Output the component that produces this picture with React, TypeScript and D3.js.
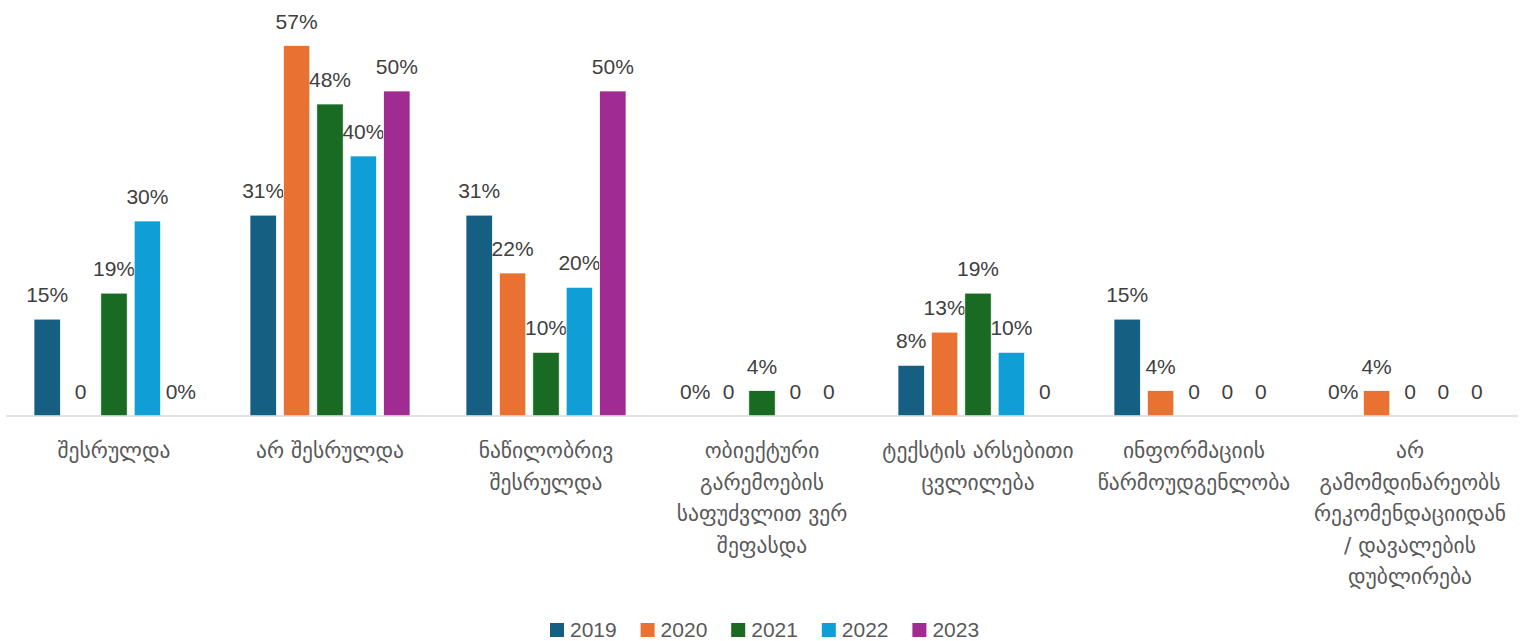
import { useEffect } from "react";
import * as d3 from "d3";

const categories = [
  ["შესრულდა"],
  ["არ შესრულდა"],
  ["ნაწილობრივ", "შესრულდა"],
  ["ობიექტური", "გარემოების", "საფუძვლით ვერ", "შეფასდა"],
  ["ტექსტის არსებითი", "ცვლილება"],
  ["ინფორმაციის", "წარმოუდგენლობა"],
  ["არ", "გამომდინარეობს", "რეკომენდაციიდან", "/ დავალების", "დუბლირება"],
];

const years = ["2019", "2020", "2021", "2022", "2023"];
const colors = ["#156082", "#e97132", "#196b24", "#0f9ed5", "#a02b93"];

const v2019 = [14.9, 30.9, 30.9, 0, 7.8, 14.9, 0];
const v2020 = [0, 57, 22, 0, 12.9, 3.9, 3.9];
const v2021 = [18.9, 48, 9.8, 3.9, 18.9, 0, 0];
const v2022 = [30, 40, 19.8, 0, 9.8, 0, 0];
const v2023 = [0, 50, 50, 0, 0, 0, 0];

const l2019 = ["15%", "31%", "31%", "0%", "8%", "15%", "0%"];
const l2020 = ["0", "57%", "22%", "0", "13%", "4%", "4%"];
const l2021 = ["19%", "48%", "10%", "4%", "19%", "0", "0"];
const l2022 = ["30%", "40%", "20%", "0", "10%", "0", "0"];
const l2023 = ["0%", "50%", "50%", "0", "0", "0", "0"];

const values = [v2019, v2020, v2021, v2022, v2023];
const labels = [l2019, l2020, l2021, l2022, l2023];

const W = 1528;
const H = 641;
const NUM_FONT = "'Liberation Sans', Arial, sans-serif";
const GEO_FONT = "'DejaVu Sans', sans-serif";

export default function App() {
  useEffect(() => {
    document.body.style.margin = "0";
  }, []);

  const keys = categories.map((c) => c.join(" "));
  const x0 = d3.scaleBand<string>().domain(keys).range([6, 1518]);
  const x1 = d3
    .scaleBand<string>()
    .domain(years)
    .range([28, x0.bandwidth() - 28])
    .paddingInner(0.21);
  const y = d3.scaleLinear().domain([0, 60]).range([416, 26]);

  const legendX = d3.scaleBand<string>().domain(years).range([550, 1003]);

  return (
    <svg width={W} height={H} style={{ display: "block" }}>
      <rect width={W} height={H} fill="#fff" />
      {values.map((series, si) =>
        series.map((v, ci) => {
          const bx = (x0(keys[ci]) ?? 0) + (x1(years[si]) ?? 0);
          const bw = x1.bandwidth();
          return (
            <g key={`${si}-${ci}`}>
              {v > 0 && (
                <rect
                  x={bx}
                  y={y(v)}
                  width={bw}
                  height={y(0) - y(v)}
                  fill={colors[si]}
                  stroke="#fff"
                  strokeWidth={0.7}
                />
              )}
              <text
                x={bx + bw / 2}
                y={y(v) - (v > 0 ? 17 : 17)}
                textAnchor="middle"
                fontFamily={NUM_FONT}
                fontSize={21}
                fill="#404040"
              >
                {labels[si][ci]}
              </text>
            </g>
          );
        })
      )}
      <line x1={6} x2={1518} y1={y(0)} y2={y(0)} stroke="#d9d9d9" strokeWidth={1.5} />
      {categories.map((lines, ci) => (
        <text
          key={ci}
          x={(x0(keys[ci]) ?? 0) + x0.bandwidth() / 2}
          textAnchor="middle"
          fontFamily={GEO_FONT}
          fontSize={21.5}
          fill="#595959"
        >
          {lines.map((ln, li) => (
            <tspan key={li} x={(x0(keys[ci]) ?? 0) + x0.bandwidth() / 2} y={458 + li * 31.5}>
              {ln}
            </tspan>
          ))}
        </text>
      ))}
      {years.map((yr, i) => (
        <g key={yr} transform={`translate(${legendX(yr)},0)`}>
          <rect x={0} y={623} width={14} height={14} fill={colors[i]} />
          <text x={20} y={637} fontFamily={NUM_FONT} fontSize={21} fill="#595959">
            {yr}
          </text>
        </g>
      ))}
    </svg>
  );
}
